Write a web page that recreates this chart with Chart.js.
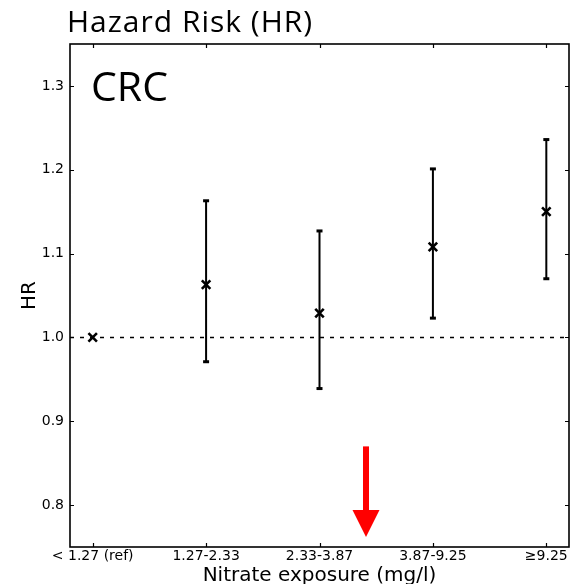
<!DOCTYPE html>
<html>
<head>
<meta charset="utf-8">
<script src="https://cdn.jsdelivr.net/npm/chart.js@4/dist/chart.umd.min.js"></script>
<style>
    body { margin: 0; background: #fff; }
    #wrap { width: 580px; height: 584px; }
</style>
</head>
<body>
<div id="wrap"><canvas id="myChartCanvas1" width="580" height="584"></canvas></div>
<script>
const categories = ['< 1.27 (ref)', '1.27-2.33', '2.33-3.87', '3.87-9.25', '≥9.25'];
const hr = [1.0, 1.063, 1.029, 1.108, 1.150];
const lower = [null, 0.971, 0.939, 1.023, 1.070];
const upper = [null, 1.163, 1.127, 1.201, 1.236];
const yTicks = [0.8, 0.9, 1.0, 1.1, 1.2, 1.3];
const refHR = 1.0;
const xMin = -0.2, xMax = 4.2;
const yMin = 0.75, yMax = 1.35;

// red arrow annotation, in data units
const arrowX = 2.41;
const arrowTop = 0.87;
const arrowHeadBase = 0.794;
const arrowTip = 0.762;

const titleText = 'Hazard Risk (HR)';
const panelText = 'CRC';

function buildStems() {
    let pts = [];
    for (let i = 0; i < categories.length; i++) {
        if (lower[i] === null) continue;
        pts.push({ x: i, y: lower[i] });
        pts.push({ x: i, y: upper[i] });
        pts.push({ x: i, y: null });
    }
    return pts;
}

function buildCaps() {
    let pts = [];
    for (let i = 0; i < categories.length; i++) {
        if (lower[i] === null) continue;
        pts.push({ x: i, y: lower[i] });
        pts.push({ x: i, y: upper[i] });
    }
    return pts;
}

// frame box + inward ticks on all four sides
const frameTicks = {
    id: 'frameTicks',
    afterDatasetsDraw(chart) {
        const { ctx, chartArea: a, scales: { x, y } } = chart;
        ctx.save();
        ctx.strokeStyle = '#000';
        ctx.lineWidth = 1.6;
        ctx.strokeRect(a.left, a.top, a.right - a.left, a.bottom - a.top);
        ctx.lineWidth = 1.2;
        ctx.beginPath();
        x.ticks.forEach(t => {
            const px = Math.round(x.getPixelForValue(t.value)) + 0.5;
            ctx.moveTo(px, a.bottom); ctx.lineTo(px, a.bottom - 4);
            ctx.moveTo(px, a.top); ctx.lineTo(px, a.top + 4);
        });
        y.ticks.forEach(t => {
            const py = Math.round(y.getPixelForValue(t.value)) + 0.5;
            ctx.moveTo(a.left, py); ctx.lineTo(a.left + 4, py);
            ctx.moveTo(a.right, py); ctx.lineTo(a.right - 4, py);
        });
        ctx.stroke();
        ctx.restore();
    }
};

// title, panel label and the red arrow
const extras = {
    id: 'extras',
    afterDraw(chart) {
        const { ctx, chartArea: a, scales: { x, y } } = chart;
        ctx.save();
        ctx.fillStyle = '#000';
        ctx.textBaseline = 'alphabetic';
        ctx.textAlign = 'left';
        ctx.font = '30px "Open Sans"';
        ctx.letterSpacing = '1px';
        ctx.fillText(titleText, a.left - 3, 32);
        ctx.font = '41px "Open Sans"';
        ctx.letterSpacing = '0px';
        ctx.fillText(panelText, a.left + 21, 101);

        const ax = x.getPixelForValue(arrowX);
        const yTop = y.getPixelForValue(arrowTop);
        const yBase = y.getPixelForValue(arrowHeadBase);
        const yTip = y.getPixelForValue(arrowTip);
        ctx.fillStyle = '#ff0000';
        ctx.fillRect(ax - 3, yTop, 6, yBase - yTop + 1);
        ctx.beginPath();
        ctx.moveTo(ax - 13.5, yBase);
        ctx.lineTo(ax + 13.5, yBase);
        ctx.lineTo(ax, yTip);
        ctx.closePath();
        ctx.fill();
        ctx.restore();
    }
};

const config = {
    type: 'scatter',
    data: {
        datasets: [
            {
                data: [{ x: xMin, y: refHR }, { x: xMax, y: refHR }],
                showLine: true,
                borderColor: '#000',
                borderWidth: 1.5,
                borderDash: [4, 6],
                pointRadius: 0
            },
            {
                data: buildStems(),
                showLine: true,
                spanGaps: false,
                borderColor: '#000',
                borderWidth: 2,
                pointRadius: 0
            },
            {
                data: buildCaps(),
                pointStyle: 'line',
                pointRadius: 3,
                borderColor: '#000',
                borderWidth: 3
            },
            {
                data: hr.map((v, i) => ({ x: i, y: v })),
                pointStyle: 'crossRot',
                pointRadius: 6,
                borderColor: '#000',
                borderWidth: 2.6
            }
        ]
    },
    options: {
        responsive: false,
        animation: false,
        layout: { padding: { top: 44, right: 11, left: 0, bottom: 0 } },
        scales: {
            x: {
                type: 'linear',
                min: xMin,
                max: xMax,
                grid: { display: false, drawTicks: false },
                border: { display: false },
                afterBuildTicks: (scale) => {
                    scale.ticks = categories.map((c, i) => ({ value: i }));
                },
                afterFit: (scale) => { scale.height = 37; },
                ticks: {
                    autoSkip: false,
                    maxRotation: 0,
                    padding: 1,
                    color: '#000',
                    font: { family: 'DejaVu Sans', size: 14 },
                    callback: (value) => categories[value]
                },
                title: {
                    display: true,
                    text: 'Nitrate exposure (mg/l)',
                    color: '#000',
                    font: { family: 'DejaVu Sans', size: 20, lineHeight: 1 },
                    padding: { top: 0, bottom: -2 }
                }
            },
            y: {
                min: yMin,
                max: yMax,
                grid: { display: false, drawTicks: false },
                border: { display: false },
                afterBuildTicks: (scale) => {
                    scale.ticks = yTicks.map(v => ({ value: v }));
                },
                afterFit: (scale) => { scale.width = 70; },
                ticks: {
                    padding: 6,
                    color: '#000',
                    font: { family: 'DejaVu Sans', size: 14 },
                    callback: (value) => Number(value).toFixed(1)
                },
                title: {
                    display: true,
                    text: 'HR',
                    color: '#000',
                    font: { family: 'DejaVu Sans', size: 20, lineHeight: 1 },
                    padding: { top: 20, bottom: 0 }
                }
            }
        },
        plugins: {
            legend: { display: false },
            tooltip: { enabled: false }
        }
    },
    plugins: [frameTicks, extras]
};

new Chart(
    document.getElementById('myChartCanvas1'),
    config
);
</script>
</body>
</html>
